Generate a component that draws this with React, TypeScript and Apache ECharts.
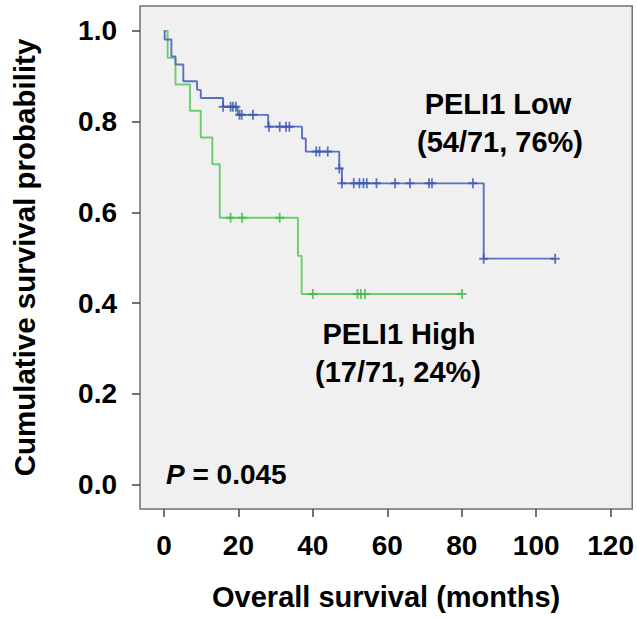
import React, { useEffect, useRef } from "react";
import * as echarts from "echarts";

// Kaplan-Meier steps (time in months, survival after the drop)
const lowStepTimes = [0, 0.2, 2.0, 3.1, 5.2, 8.9, 9.9, 15.9, 19.8, 28.0, 37.1, 38.1, 47.1, 47.8, 85.9, 105.1];
const lowStepSurv = [1.0, 0.981, 0.944, 0.926, 0.889, 0.87, 0.852, 0.833, 0.815, 0.789, 0.763, 0.734, 0.697, 0.664, 0.498, 0.498];
const lowCensorTimes = [15.9, 17.9, 18.5, 19.3, 20.3, 20.9, 23.9, 28.2, 31.1, 32.8, 33.7, 40.9, 41.8, 44.0, 47.1, 47.8, 51.0, 52.5, 53.6, 54.5, 57.1, 62.1, 66.1, 71.2, 72.0, 83.0, 85.9, 105.1];
const lowCensorSurv = [0.833, 0.833, 0.833, 0.833, 0.815, 0.815, 0.815, 0.789, 0.789, 0.789, 0.789, 0.734, 0.734, 0.734, 0.697, 0.664, 0.664, 0.664, 0.664, 0.664, 0.664, 0.664, 0.664, 0.664, 0.664, 0.664, 0.498, 0.498];

const highStepTimes = [0, 1.0, 3.1, 7.0, 9.9, 13.0, 15.0, 36.0, 37.0, 80.1];
const highStepSurv = [1.0, 0.941, 0.882, 0.824, 0.765, 0.706, 0.588, 0.504, 0.42, 0.42];
const highCensorTimes = [17.9, 21.0, 31.1, 40.0, 52.0, 52.9, 54.0, 80.1];
const highCensorSurv = [0.588, 0.588, 0.588, 0.42, 0.42, 0.42, 0.42, 0.42];

const xTicks = [0, 20, 40, 60, 80, 100, 120];
const yTicks = [0, 0.2, 0.4, 0.6, 0.8, 1.0];

const xTitle = "Overall survival (months)";
const yTitle = "Cumulative survival probability";
const lowLabel = ["PELI1 Low", "(54/71, 76%)"];
const highLabel = ["PELI1 High", "(17/71, 24%)"];
const pText = "0.045";

const FONT = '"Liberation Sans", Arial, Helvetica, sans-serif';
const PLUS = "path://M4,0h2v4h4v2h-4v4h-2v-4h-4v-2h4z";

export default function App() {
  const ref = useRef<HTMLDivElement>(null);
  useEffect(() => {
    if (!ref.current) return;
    const chart = echarts.init(ref.current, null, { renderer: "svg" });
    const zip = (a: number[], b: number[]) => a.map((v, i) => [v, b[i]]);
    const textStyle = { fontFamily: FONT, fontWeight: "bold" as const, color: "#000" };
    const annot = (text: string, x: number, y: number) => ({
      type: "text",
      x,
      y,
      style: { text, fontFamily: FONT, fontWeight: "bold", fontSize: 29, fill: "#000", align: "center", verticalAlign: "middle" },
    });
    chart.setOption({
      animation: false,
      backgroundColor: "#ffffff",
      grid: {
        left: 140,
        right: 3,
        top: 6,
        bottom: 110,
        show: true,
        backgroundColor: "#f0f0f0",
        borderColor: "#707070",
        borderWidth: 1.5,
      },
      xAxis: {
        type: "value",
        min: -6.43,
        max: 125.8,
        name: xTitle,
        nameLocation: "middle",
        nameGap: 73,
        nameTextStyle: { ...textStyle, fontSize: 29 },
        axisLine: { show: false, onZero: false },
        splitLine: { show: false },
        axisTick: { show: true, length: 8, customValues: xTicks, lineStyle: { color: "#444", width: 1.5 } },
        axisLabel: { ...textStyle, fontSize: 28, margin: 22, customValues: xTicks },
      },
      yAxis: {
        type: "value",
        min: -0.054,
        max: 1.055,
        name: yTitle,
        nameLocation: "middle",
        nameGap: 101,
        nameTextStyle: { ...textStyle, fontSize: 29.5 },
        axisLine: { show: false, onZero: false },
        splitLine: { show: false },
        axisTick: { show: true, length: 8, customValues: yTicks, lineStyle: { color: "#444", width: 1.5 } },
        axisLabel: {
          ...textStyle,
          fontSize: 28,
          margin: 23,
          customValues: yTicks,
          formatter: (v: number) => v.toFixed(1),
        },
      },
      series: [
        {
          type: "line",
          step: "end",
          data: zip(lowStepTimes, lowStepSurv),
          showSymbol: false,
          lineStyle: { color: "#5a70c2", width: 1.9 },
          z: 3,
        },
        {
          type: "line",
          step: "end",
          data: zip(highStepTimes, highStepSurv),
          showSymbol: false,
          lineStyle: { color: "#6ccd6c", width: 1.9 },
          z: 2,
        },
        {
          type: "scatter",
          data: zip(lowCensorTimes, lowCensorSurv),
          symbol: PLUS,
          symbolSize: [9, 10],
          itemStyle: { color: "#3a55b2" },
          z: 5,
        },
        {
          type: "scatter",
          data: zip(highCensorTimes, highCensorSurv),
          symbol: PLUS,
          symbolSize: [9, 10],
          itemStyle: { color: "#3fb83f" },
          z: 4,
        },
      ],
      graphic: [
        annot(lowLabel[0], 498, 104),
        annot(lowLabel[1], 500, 142),
        annot(highLabel[0], 399, 334),
        annot(highLabel[1], 398, 372),
        {
          type: "text",
          x: 166,
          y: 474,
          style: {
            text: "{i|P} = " + pText,
            fontFamily: FONT,
            fontWeight: "bold",
            fontSize: 28,
            fill: "#000",
            align: "left",
            verticalAlign: "middle",
            rich: {
              i: { fontFamily: FONT, fontStyle: "italic", fontWeight: "bold", fontSize: 28, fill: "#000" },
            },
          },
        },
      ],
    });
    return () => chart.dispose();
  }, []);
  return (
    <div
      ref={ref}
      style={{ position: "fixed", left: 0, top: 0, width: 637, height: 619 }}
    />
  );
}
